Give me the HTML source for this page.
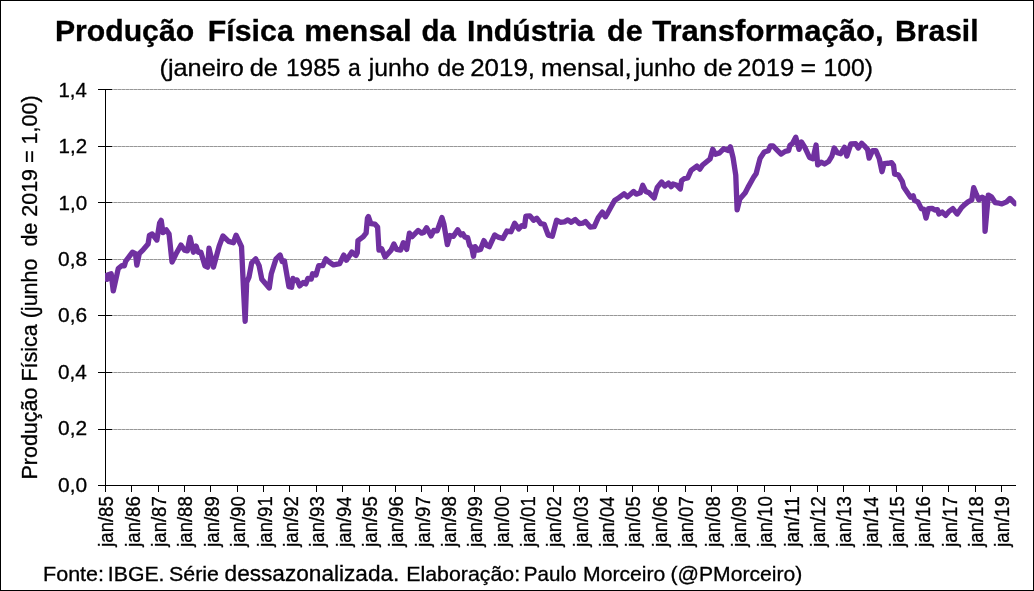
<!DOCTYPE html><html><head><meta charset="utf-8"><title>Produção Física mensal da Indústria de Transformação</title>
<style>html,body{margin:0;padding:0;background:#fff}svg{display:block;will-change:transform}text{font-family:"Liberation Sans",sans-serif;fill:#000;stroke:#000;stroke-width:0.3px}</style></head><body>
<svg width="1034" height="591" viewBox="0 0 1034 591">
<rect x="0" y="0" width="1034" height="591" fill="#fff"/>
<g stroke-width="1" shape-rendering="crispEdges">
<line x1="112" y1="429.5" x2="1016.0" y2="429.5" stroke="#b8b8b8"/>
<line x1="112" y1="429.5" x2="1016.0" y2="429.5" stroke="#979797" stroke-dasharray="3 1" stroke-dashoffset="2"/>
<line x1="112" y1="372.5" x2="1016.0" y2="372.5" stroke="#b8b8b8"/>
<line x1="112" y1="372.5" x2="1016.0" y2="372.5" stroke="#979797" stroke-dasharray="3 1" stroke-dashoffset="2"/>
<line x1="112" y1="315.5" x2="1016.0" y2="315.5" stroke="#b8b8b8"/>
<line x1="112" y1="315.5" x2="1016.0" y2="315.5" stroke="#979797" stroke-dasharray="3 1" stroke-dashoffset="2"/>
<line x1="112" y1="259.5" x2="1016.0" y2="259.5" stroke="#b8b8b8"/>
<line x1="112" y1="259.5" x2="1016.0" y2="259.5" stroke="#979797" stroke-dasharray="3 1" stroke-dashoffset="2"/>
<line x1="112" y1="202.5" x2="1016.0" y2="202.5" stroke="#b8b8b8"/>
<line x1="112" y1="202.5" x2="1016.0" y2="202.5" stroke="#979797" stroke-dasharray="3 1" stroke-dashoffset="2"/>
<line x1="112" y1="146.5" x2="1016.0" y2="146.5" stroke="#b8b8b8"/>
<line x1="112" y1="146.5" x2="1016.0" y2="146.5" stroke="#979797" stroke-dasharray="3 1" stroke-dashoffset="2"/>
<line x1="112" y1="89.5" x2="1016.0" y2="89.5" stroke="#b8b8b8"/>
<line x1="112" y1="89.5" x2="1016.0" y2="89.5" stroke="#979797" stroke-dasharray="3 1" stroke-dashoffset="2"/>
</g>
<g stroke="#000" stroke-width="1" shape-rendering="crispEdges">
<line x1="105.5" y1="89" x2="105.5" y2="492"/>
<line x1="98" y1="485.5" x2="1016.0" y2="485.5"/>
<line x1="98" y1="485.5" x2="112" y2="485.5"/>
<line x1="98" y1="429.5" x2="112" y2="429.5"/>
<line x1="98" y1="372.5" x2="112" y2="372.5"/>
<line x1="98" y1="315.5" x2="112" y2="315.5"/>
<line x1="98" y1="259.5" x2="112" y2="259.5"/>
<line x1="98" y1="202.5" x2="112" y2="202.5"/>
<line x1="98" y1="146.5" x2="112" y2="146.5"/>
<line x1="98" y1="89.5" x2="112" y2="89.5"/>
<line x1="105.5" y1="485.5" x2="105.5" y2="492"/>
<line x1="131.5" y1="485.5" x2="131.5" y2="492"/>
<line x1="158.5" y1="485.5" x2="158.5" y2="492"/>
<line x1="184.5" y1="485.5" x2="184.5" y2="492"/>
<line x1="210.5" y1="485.5" x2="210.5" y2="492"/>
<line x1="237.5" y1="485.5" x2="237.5" y2="492"/>
<line x1="263.5" y1="485.5" x2="263.5" y2="492"/>
<line x1="289.5" y1="485.5" x2="289.5" y2="492"/>
<line x1="316.5" y1="485.5" x2="316.5" y2="492"/>
<line x1="342.5" y1="485.5" x2="342.5" y2="492"/>
<line x1="369.5" y1="485.5" x2="369.5" y2="492"/>
<line x1="395.5" y1="485.5" x2="395.5" y2="492"/>
<line x1="421.5" y1="485.5" x2="421.5" y2="492"/>
<line x1="448.5" y1="485.5" x2="448.5" y2="492"/>
<line x1="474.5" y1="485.5" x2="474.5" y2="492"/>
<line x1="500.5" y1="485.5" x2="500.5" y2="492"/>
<line x1="527.5" y1="485.5" x2="527.5" y2="492"/>
<line x1="553.5" y1="485.5" x2="553.5" y2="492"/>
<line x1="579.5" y1="485.5" x2="579.5" y2="492"/>
<line x1="606.5" y1="485.5" x2="606.5" y2="492"/>
<line x1="632.5" y1="485.5" x2="632.5" y2="492"/>
<line x1="658.5" y1="485.5" x2="658.5" y2="492"/>
<line x1="685.5" y1="485.5" x2="685.5" y2="492"/>
<line x1="711.5" y1="485.5" x2="711.5" y2="492"/>
<line x1="737.5" y1="485.5" x2="737.5" y2="492"/>
<line x1="764.5" y1="485.5" x2="764.5" y2="492"/>
<line x1="790.5" y1="485.5" x2="790.5" y2="492"/>
<line x1="817.5" y1="485.5" x2="817.5" y2="492"/>
<line x1="843.5" y1="485.5" x2="843.5" y2="492"/>
<line x1="869.5" y1="485.5" x2="869.5" y2="492"/>
<line x1="896.5" y1="485.5" x2="896.5" y2="492"/>
<line x1="922.5" y1="485.5" x2="922.5" y2="492"/>
<line x1="948.5" y1="485.5" x2="948.5" y2="492"/>
<line x1="975.5" y1="485.5" x2="975.5" y2="492"/>
<line x1="1001.5" y1="485.5" x2="1001.5" y2="492"/>
</g>
<clipPath id="pc"><rect x="105" y="85" width="911.3" height="401"/></clipPath><polyline clip-path="url(#pc)" fill="none" stroke="#7030A0" stroke-width="5.33" stroke-linejoin="round" stroke-linecap="round" points="107.0,279.4 106.2,275.6 111.2,273.8 113.27,290.82 118.28,268.48 121.66,265.77 124.37,265.77 125.73,261.03 132.5,252.23 135.47,253.59 136.83,265.1 139.26,253.59 143.33,249.53 148.07,244.11 149.42,235.31 152.13,233.96 156.87,240.05 159.57,223.12 161.2,220.42 162.96,232.6 166.34,229.89 169.05,233.96 172.03,261.98 175.82,254.26 180.97,245.06 184.62,250.2 187.33,250.88 190.04,237.34 193.42,252.23 196.13,246.14 198.16,252.23 200.87,252.23 204.93,265.77 207.64,267.13 208.99,248.17 213.46,267.13 219.15,246.14 222.94,235.99 228.63,241.4 233.37,242.76 236.09,235.15 241.51,246.66 243.54,289.99 245.16,321.27 246.65,282.54 248.96,277.13 251.66,262.91 255.73,258.85 259.11,265.62 261.82,279.16 269.26,287.96 271.3,273.74 276.03,258.85 280.1,255.06 282.13,261.56 284.43,260.88 288.9,286.61 291.61,287.28 292.96,278.48 294.72,280.51 297.02,279.84 299.73,285.93 303.11,282.54 305.82,283.9 307.85,278.48 311.24,279.16 312.59,273.74 315.98,275.1 318.68,265.62 322.75,265.62 325.86,258.85 329.52,262.23 333.58,264.94 339.67,263.59 343.73,255.06 346.44,260.2 351.86,252.08 355.92,255.46 357.27,252.76 357.95,240.57 363.37,236.51 366.09,233.17 367.45,218.28 368.39,216.52 370.83,223.69 374.89,224.1 377.6,227.08 378.96,250.1 381.66,248.74 385.05,256.87 391.14,250.1 393.85,244.0 396.56,249.42 400.62,250.1 403.33,242.65 406.71,249.42 409.42,233.17 412.13,236.56 418.22,230.46 421.61,233.17 423.64,232.5 426.62,227.76 431.08,235.88 433.79,230.46 437.18,230.87 441.91,217.6 443.95,224.37 447.33,244.68 450.04,235.47 453.42,236.29 457.76,229.79 460.87,234.93 462.9,233.85 464.93,237.23 467.64,237.64 469.67,245.36 471.7,247.39 473.46,256.19 475.09,246.71 477.79,250.1 480.5,249.42 483.89,240.62 486.6,245.36 489.3,246.71 494.72,234.93 498.12,237.13 502.86,238.48 506.92,231.03 510.99,231.71 514.64,223.18 518.7,229.0 521.82,225.62 524.53,226.3 525.88,216.14 529.94,215.87 533.6,220.2 536.71,218.17 540.77,223.59 544.16,224.26 548.22,235.1 552.28,236.18 556.62,220.2 560.41,222.23 564.47,221.83 567.85,219.93 571.24,222.23 575.3,219.53 579.36,223.59 582.75,223.18 585.45,221.56 590.19,226.97 594.26,226.7 598.32,217.5 602.38,212.08 605.36,216.82 607.79,212.76 614.56,200.57 618.63,197.86 624.04,193.8 627.45,196.87 633.54,191.45 636.25,194.16 640.31,192.8 642.75,185.36 645.73,191.45 649.11,192.8 654.12,197.95 657.23,187.39 661.7,181.97 664.68,186.03 668.47,183.06 671.18,186.71 673.08,184.0 676.87,185.36 680.25,189.01 681.61,180.62 684.31,178.59 687.7,177.91 691.08,170.46 696.91,166.13 699.88,169.11 702.59,165.05 710.04,158.96 712.75,149.21 715.45,154.22 719.52,152.86 723.58,148.8 728.32,150.56 730.35,146.77 733.06,157.6 735.76,175.2 737.12,209.73 739.83,198.9 745.24,192.8 747.95,187.39 754.04,176.56 756.09,173.74 760.15,158.17 764.22,152.08 768.28,150.73 770.31,145.99 773.02,145.99 777.08,150.05 781.14,154.11 785.2,151.4 788.59,150.73 789.94,145.31 792.65,143.28 795.76,137.19 797.39,143.28 799.01,149.37 801.45,141.92 804.84,147.34 809.57,157.5 812.96,158.85 816.07,145.04 817.7,164.94 821.08,162.23 824.47,163.99 828.53,161.56 831.91,156.14 834.22,148.02 837.33,152.76 840.72,153.7 844.51,147.34 846.81,156.14 850.87,143.96 855.61,143.68 858.32,148.02 861.7,143.28 865.09,146.66 867.52,149.37 869.15,158.17 872.53,150.73 875.92,150.73 879.3,158.85 882.01,171.71 884.04,163.59 888.12,163.28 891.51,162.6 893.54,165.31 894.62,174.11 898.28,174.79 902.34,181.56 903.69,186.97 910.46,197.13 913.17,195.77 914.53,200.51 917.91,201.87 921.3,208.64 924.0,209.31 926.03,218.11 928.47,208.64 932.13,208.37 934.84,209.99 937.54,209.72 938.9,214.05 942.28,212.02 945.67,215.41 949.05,211.34 952.84,208.64 957.18,214.05 961.24,207.96 964.62,204.57 968.01,201.87 971.8,199.84 973.69,187.65 976.4,194.42 978.84,199.84 982.22,197.13 984.26,198.48 985.07,231.25 988.32,195.1 991.7,197.13 995.09,202.54 999.15,203.22 1001.86,203.9 1006.6,201.87 1009.98,198.48 1014.99,203.63"/>
<text transform="translate(54.94,40.75) scale(1.0295,1)" font-size="29.33" font-weight="bold" xml:space="preserve">Produção</text>
<text transform="translate(207.83,40.75) scale(1.0338,1)" font-size="29.33" font-weight="bold" xml:space="preserve">Física</text>
<text transform="translate(304.27,40.75) scale(1.0639,1)" font-size="29.33" font-weight="bold" xml:space="preserve">mensal</text>
<text transform="translate(421.44,40.75) scale(1.0045,1)" font-size="29.33" font-weight="bold" xml:space="preserve">da</text>
<text transform="translate(467.04,40.75) scale(1.0279,1)" font-size="29.33" font-weight="bold" xml:space="preserve">Indústria</text>
<text transform="translate(607.00,40.75) scale(1.0406,1)" font-size="29.33" font-weight="bold" xml:space="preserve">de</text>
<text transform="translate(652.24,40.75) scale(1.0594,1)" font-size="29.33" font-weight="bold" xml:space="preserve">Transformação,</text>
<text transform="translate(895.05,40.75) scale(1.0245,1)" font-size="29.33" font-weight="bold" xml:space="preserve">Brasil</text>
<text transform="translate(159.52,75.60) scale(1.0542,1)" font-size="24" xml:space="preserve">(janeiro</text>
<text transform="translate(249.64,75.60) scale(1.0586,1)" font-size="24" xml:space="preserve">de</text>
<text transform="translate(285.91,75.60) scale(1.0207,1)" font-size="24" xml:space="preserve">1985</text>
<text transform="translate(347.94,75.60) scale(0.9551,1)" font-size="24" xml:space="preserve">a</text>
<text transform="translate(368.72,75.60) scale(1.0335,1)" font-size="24" xml:space="preserve">junho</text>
<text transform="translate(437.47,75.60) scale(1.0263,1)" font-size="24" xml:space="preserve">de</text>
<text transform="translate(470.15,75.60) scale(1.0802,1)" font-size="24" xml:space="preserve">2019,</text>
<text transform="translate(540.88,75.60) scale(1.0807,1)" font-size="24" xml:space="preserve">mensal,</text>
<text transform="translate(634.72,75.60) scale(1.0386,1)" font-size="24" xml:space="preserve">junho</text>
<text transform="translate(703.52,75.60) scale(1.0828,1)" font-size="24" xml:space="preserve">de</text>
<text transform="translate(737.27,75.60) scale(1.0667,1)" font-size="24" xml:space="preserve">2019</text>
<text transform="translate(800.61,75.60) scale(1.1130,1)" font-size="24" xml:space="preserve">=</text>
<text transform="translate(823.39,75.60) scale(1.0324,1)" font-size="24" xml:space="preserve">100)</text>
<text transform="translate(43.01,581.30) scale(1.0774,1)" font-size="20" xml:space="preserve">Fonte:</text>
<text transform="translate(107.84,581.30) scale(1.0613,1)" font-size="20" xml:space="preserve">IBGE.</text>
<text transform="translate(169.03,581.30) scale(1.0704,1)" font-size="20" xml:space="preserve">Série</text>
<text transform="translate(224.55,581.30) scale(1.0482,1)" font-size="21.6" xml:space="preserve">dessazonalizada.</text>
<text transform="translate(406.23,581.30) scale(1.0673,1)" font-size="20" xml:space="preserve">Elaboração:</text>
<text transform="translate(523.80,581.30) scale(1.0309,1)" font-size="20" xml:space="preserve">Paulo</text>
<text transform="translate(583.05,581.30) scale(1.0591,1)" font-size="20" xml:space="preserve">Morceiro</text>
<text transform="translate(670.48,581.30) scale(1.0569,1)" font-size="20" xml:space="preserve">(@PMorceiro)</text>
<text transform="translate(58.05,491.70) scale(1.0055,1)" font-size="20.8" xml:space="preserve">0,0</text>
<text transform="translate(58.05,435.29) scale(1.0055,1)" font-size="20.8" xml:space="preserve">0,2</text>
<text transform="translate(58.05,378.88) scale(0.9964,1)" font-size="20.8" xml:space="preserve">0,4</text>
<text transform="translate(58.05,322.47) scale(1.0055,1)" font-size="20.8" xml:space="preserve">0,6</text>
<text transform="translate(58.05,266.06) scale(1.0055,1)" font-size="20.8" xml:space="preserve">0,8</text>
<text transform="translate(58.52,209.65) scale(0.9887,1)" font-size="20.8" xml:space="preserve">1,0</text>
<text transform="translate(58.52,153.24) scale(0.9887,1)" font-size="20.8" xml:space="preserve">1,2</text>
<text transform="translate(58.53,96.83) scale(0.9794,1)" font-size="20.8" xml:space="preserve">1,4</text>
<text transform="translate(37.10,479.56) rotate(-90) scale(1.0085,1.06)" font-size="21.33" xml:space="preserve">Produção Física (junho  de 2019 = 1,00)</text>
<text transform="translate(113.40,546.80) rotate(-90) scale(0.9941,1.06)" font-size="18.67" xml:space="preserve">jan/85</text>
<text transform="translate(139.75,546.80) rotate(-90) scale(0.9941,1.06)" font-size="18.67" xml:space="preserve">jan/86</text>
<text transform="translate(166.11,546.80) rotate(-90) scale(0.9941,1.06)" font-size="18.67" xml:space="preserve">jan/87</text>
<text transform="translate(192.46,546.80) rotate(-90) scale(0.9941,1.06)" font-size="18.67" xml:space="preserve">jan/88</text>
<text transform="translate(218.81,546.80) rotate(-90) scale(0.9941,1.06)" font-size="18.67" xml:space="preserve">jan/89</text>
<text transform="translate(245.16,546.80) rotate(-90) scale(0.9941,1.06)" font-size="18.67" xml:space="preserve">jan/90</text>
<text transform="translate(271.52,546.80) rotate(-90) scale(0.9941,1.06)" font-size="18.67" xml:space="preserve">jan/91</text>
<text transform="translate(297.87,546.80) rotate(-90) scale(0.9941,1.06)" font-size="18.67" xml:space="preserve">jan/92</text>
<text transform="translate(324.22,546.80) rotate(-90) scale(0.9941,1.06)" font-size="18.67" xml:space="preserve">jan/93</text>
<text transform="translate(350.58,546.81) rotate(-90) scale(0.9892,1.06)" font-size="18.67" xml:space="preserve">jan/94</text>
<text transform="translate(376.93,546.80) rotate(-90) scale(0.9941,1.06)" font-size="18.67" xml:space="preserve">jan/95</text>
<text transform="translate(403.28,546.80) rotate(-90) scale(0.9941,1.06)" font-size="18.67" xml:space="preserve">jan/96</text>
<text transform="translate(429.64,546.80) rotate(-90) scale(0.9941,1.06)" font-size="18.67" xml:space="preserve">jan/97</text>
<text transform="translate(455.99,546.80) rotate(-90) scale(0.9941,1.06)" font-size="18.67" xml:space="preserve">jan/98</text>
<text transform="translate(482.34,546.80) rotate(-90) scale(0.9941,1.06)" font-size="18.67" xml:space="preserve">jan/99</text>
<text transform="translate(508.69,546.80) rotate(-90) scale(0.9941,1.06)" font-size="18.67" xml:space="preserve">jan/00</text>
<text transform="translate(535.05,546.80) rotate(-90) scale(0.9941,1.06)" font-size="18.67" xml:space="preserve">jan/01</text>
<text transform="translate(561.40,546.80) rotate(-90) scale(0.9941,1.06)" font-size="18.67" xml:space="preserve">jan/02</text>
<text transform="translate(587.75,546.80) rotate(-90) scale(0.9941,1.06)" font-size="18.67" xml:space="preserve">jan/03</text>
<text transform="translate(614.11,546.81) rotate(-90) scale(0.9892,1.06)" font-size="18.67" xml:space="preserve">jan/04</text>
<text transform="translate(640.46,546.80) rotate(-90) scale(0.9941,1.06)" font-size="18.67" xml:space="preserve">jan/05</text>
<text transform="translate(666.81,546.80) rotate(-90) scale(0.9941,1.06)" font-size="18.67" xml:space="preserve">jan/06</text>
<text transform="translate(693.16,546.80) rotate(-90) scale(0.9941,1.06)" font-size="18.67" xml:space="preserve">jan/07</text>
<text transform="translate(719.52,546.80) rotate(-90) scale(0.9941,1.06)" font-size="18.67" xml:space="preserve">jan/08</text>
<text transform="translate(745.87,546.80) rotate(-90) scale(0.9941,1.06)" font-size="18.67" xml:space="preserve">jan/09</text>
<text transform="translate(772.22,546.80) rotate(-90) scale(0.9941,1.06)" font-size="18.67" xml:space="preserve">jan/10</text>
<text transform="translate(798.58,546.79) rotate(-90) scale(1.0245,1.06)" font-size="18.67" xml:space="preserve">jan/11</text>
<text transform="translate(824.93,546.80) rotate(-90) scale(0.9941,1.06)" font-size="18.67" xml:space="preserve">jan/12</text>
<text transform="translate(851.28,546.80) rotate(-90) scale(0.9941,1.06)" font-size="18.67" xml:space="preserve">jan/13</text>
<text transform="translate(877.64,546.81) rotate(-90) scale(0.9892,1.06)" font-size="18.67" xml:space="preserve">jan/14</text>
<text transform="translate(903.99,546.80) rotate(-90) scale(0.9941,1.06)" font-size="18.67" xml:space="preserve">jan/15</text>
<text transform="translate(930.34,546.80) rotate(-90) scale(0.9941,1.06)" font-size="18.67" xml:space="preserve">jan/16</text>
<text transform="translate(956.69,546.80) rotate(-90) scale(0.9941,1.06)" font-size="18.67" xml:space="preserve">jan/17</text>
<text transform="translate(983.05,546.80) rotate(-90) scale(0.9941,1.06)" font-size="18.67" xml:space="preserve">jan/18</text>
<text transform="translate(1009.40,546.80) rotate(-90) scale(0.9941,1.06)" font-size="18.67" xml:space="preserve">jan/19</text>
<rect x="0.5" y="0.5" width="1033" height="590" fill="none" stroke="#000" stroke-width="1" shape-rendering="crispEdges"/>
</svg></body></html>
